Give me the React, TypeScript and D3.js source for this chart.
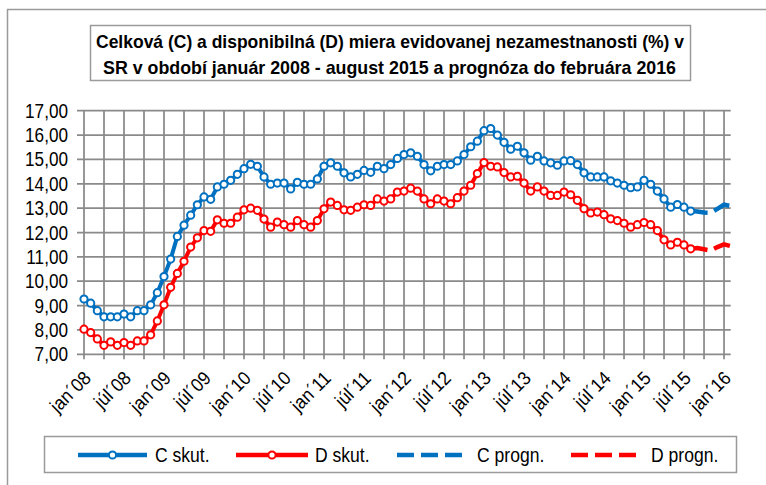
import * as d3 from "d3"

// celková miera (C), skutočnosť jan 2008 - aug 2015
const cActual = [
  9.27, 9.1, 8.79, 8.54, 8.54, 8.54, 8.65, 8.54, 8.79, 8.79, 9.03, 9.53,
  10.19, 10.91, 11.84, 12.3, 12.71, 13.14, 13.46, 13.36, 13.87, 13.98, 14.14, 14.39,
  14.62, 14.8, 14.72, 14.28, 13.98, 14.03, 14.03, 13.79, 14.06, 13.98, 13.98, 14.2,
  14.72, 14.86, 14.72, 14.45, 14.28, 14.39, 14.55, 14.47, 14.72, 14.62, 14.79, 15.04,
  15.2, 15.27, 15.13, 14.79, 14.53, 14.72, 14.79, 14.79, 14.94, 15.2, 15.52, 15.75,
  16.18, 16.27, 16.0, 15.7, 15.42, 15.54, 15.27, 14.97, 15.13, 14.94, 14.86, 14.76,
  14.94, 14.95, 14.79, 14.45, 14.28, 14.28, 14.28, 14.12, 14.03, 13.94, 13.84, 13.87,
  14.14, 13.98, 13.7, 13.38, 13.04, 13.15, 13.04, 12.88,
]

// disponibilná miera (D), skutočnosť jan 2008 - aug 2015
const dActual = [
  8.03, 7.89, 7.63, 7.37, 7.51, 7.37, 7.48, 7.37, 7.55, 7.55, 7.8, 8.37,
  9.03, 9.75, 10.32, 10.82, 11.4, 11.78, 12.08, 12.05, 12.52, 12.38, 12.38, 12.63,
  12.93, 13.0, 12.91, 12.55, 12.22, 12.43, 12.32, 12.22, 12.49, 12.32, 12.22, 12.49,
  12.97, 13.25, 13.11, 12.93, 12.91, 13.04, 13.14, 13.11, 13.38, 13.29, 13.38, 13.66,
  13.7, 13.82, 13.7, 13.38, 13.18, 13.38, 13.29, 13.18, 13.43, 13.7, 13.94, 14.42,
  14.87, 14.72, 14.69, 14.46, 14.28, 14.31, 14.03, 13.7, 13.87, 13.7, 13.52, 13.52,
  13.66, 13.55, 13.32, 12.98, 12.8, 12.84, 12.73, 12.56, 12.49, 12.38, 12.22, 12.32,
  12.41, 12.32, 12.08, 11.7, 11.49, 11.6, 11.49, 11.33,
]

// prognóza aug 2015 - feb 2016
const cForecast = [12.88, 12.86, 12.82, 12.81, 12.97, 13.14, 13.09]
const dForecast = [11.33, 11.36, 11.31, 11.26, 11.4, 11.51, 11.44]

const xTickLabels = [
  "jan´08", "júl´08", "jan´09", "júl´09", "jan´10", "júl´10", "jan´11", "júl´11",
  "jan´12", "júl´12", "jan´13", "júl´13", "jan´14", "júl´14", "jan´15", "júl´15", "jan´16",
]
const yTicks = [7, 8, 9, 10, 11, 12, 13, 14, 15, 16, 17]

const titleLines = [
  "Celková (C) a disponibilná (D) miera evidovanej nezamestnanosti (%) v",
  "SR v období január 2008 - august 2015 a prognóza do februára 2016",
]

const BLUE = "#0070c0"
const RED = "#ff0000"
const GRID = "#8a8a8a"
const FONT = "'Liberation Sans', Arial, sans-serif"
const DASH = "17,7"

const W = 766
const H = 485
const nMonths = cActual.length + cForecast.length - 1 // jan 2008 .. feb 2016

const xScale = d3.scaleLinear().domain([0, nMonths - 1]).range([84, 730.7])
const yScale = d3.scaleLinear().domain([7, 17]).range([354.3, 110.7])

const fcStart = cActual.length - 1

const line = d3
  .line<[number, number]>()
  .x((d) => xScale(d[0]))
  .y((d) => yScale(d[1]))

const toPts = (vals: number[], offset = 0) =>
  vals.map((v, i) => [i + offset, v] as [number, number])

const legendItems = [
  { label: "C skut.", color: BLUE, dashed: false, x1: 78, x2: 147, tx: 155 },
  { label: "D skut.", color: RED, dashed: false, x1: 236, x2: 308, tx: 315 },
  { label: "C progn.", color: BLUE, dashed: true, x1: 397, x2: 462, tx: 477 },
  { label: "D progn.", color: RED, dashed: true, x1: 571, x2: 636, tx: 651 },
]

const Series = ({ vals, color }: { vals: number[]; color: string }) => (
  <g>
    <path d={line(toPts(vals)) ?? ""} fill="none" stroke={color} strokeWidth={4} strokeLinejoin="round" />
    {vals.map((v, i) => (
      <circle key={i} cx={xScale(i)} cy={yScale(v)} r={3.6} fill="#fff" stroke={color} strokeWidth={2} />
    ))}
  </g>
)

export default function App() {
  const [y0, y1] = yScale.range()
  const vTicks = d3.range(0, nMonths, 3)

  return (
    <div style={{ position: "absolute", left: 0, top: 0 }}>
      <svg width={W} height={H} style={{ display: "block", fontFamily: FONT }}>
        <rect width={W} height={H} fill="#fff" />
        {/* ramček grafu */}
        <rect x={7.5} y={9.5} width={W + 20} height={H + 20} fill="none" stroke="#9a9a9a" strokeWidth={1.5} />

        {/* titulok */}
        <rect x={90.5} y={25.5} width={600} height={55} fill="#fff" stroke="#9a9a9a" strokeWidth={1.5} />
        {titleLines.map((t, i) => (
          <text
            key={i}
            x={i === 0 ? 96 : 103}
            y={i === 0 ? 47.5 : 74}
            fontSize={19}
            fontWeight="bold"
            textLength={i === 0 ? 588 : 573}
            lengthAdjust="spacingAndGlyphs"
          >
            {t}
          </text>
        ))}

        {/* mriežka */}
        {yTicks.map((t) => (
          <g key={t}>
            <line x1={77} x2={730.7} y1={yScale(t)} y2={yScale(t)} stroke={GRID} strokeWidth={1.75} />
            <text
              transform={`translate(68,${yScale(t) + 7}) scale(0.88,1)`}
              textAnchor="end"
              fontSize={19.5}
              fill="#000"
            >
              {t.toFixed(2).replace(".", ",")}
            </text>
          </g>
        ))}
        {vTicks.map((i) => (
          <line key={i} x1={xScale(i)} x2={xScale(i)} y1={y1} y2={y0 + 5} stroke={GRID} strokeWidth={1.75} />
        ))}
        {xTickLabels.map((lab, k) => (
          <text
            key={lab}
            transform={`translate(${xScale(k * 6) + 8},${y0 + 25}) rotate(-45) scale(0.92,1)`}
            textAnchor="end"
            fontSize={19}
          >
            {lab}
          </text>
        ))}

        {/* prognóza */}
        <path
          d={line(toPts(cForecast, fcStart)) ?? ""}
          fill="none"
          stroke={BLUE}
          strokeWidth={4.5}
          strokeDasharray={DASH}
        />
        <path
          d={line(toPts(dForecast, fcStart)) ?? ""}
          fill="none"
          stroke={RED}
          strokeWidth={4.5}
          strokeDasharray={DASH}
        />

        {/* skutočnosť */}
        <Series vals={cActual} color={BLUE} />
        <Series vals={dActual} color={RED} />

        {/* legenda */}
        <rect x={44.5} y={436.5} width={692} height={36} fill="#fff" stroke="#9a9a9a" strokeWidth={1.5} />
        {legendItems.map((d) => (
          <g key={d.label}>
            <line
              x1={d.x1}
              x2={d.x2}
              y1={455}
              y2={455}
              stroke={d.color}
              strokeWidth={4.5}
              strokeDasharray={d.dashed ? DASH : undefined}
            />
            {!d.dashed && (
              <circle cx={(d.x1 + d.x2) / 2} cy={455} r={3.6} fill="#fff" stroke={d.color} strokeWidth={2} />
            )}
            <text transform={`translate(${d.tx},462) scale(0.9,1)`} fontSize={19.5}>
              {d.label}
            </text>
          </g>
        ))}
      </svg>
    </div>
  )
}
